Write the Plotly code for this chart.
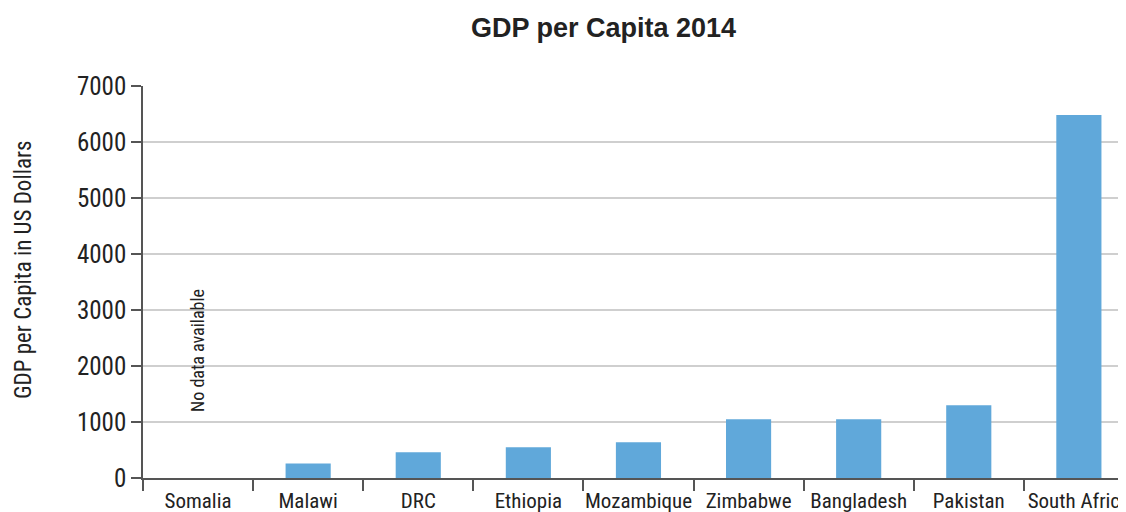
import plotly.graph_objects as go

countries = ["Somalia", "Malawi", "DRC", "Ethiopia", "Mozambique", "Zimbabwe",
             "Bangladesh", "Pakistan", "South Africa"]
gdp = [None, 260, 460, 550, 640, 1050, 1050, 1300, 6480]
y_ticks = [0, 1000, 2000, 3000, 4000, 5000, 6000, 7000]

narrow = "Liberation Sans Narrow, Arial Narrow, Roboto Condensed, sans-serif"

fig = go.Figure()
fig.add_trace(go.Bar(x=countries, y=gdp, marker_color="#60A8DA",
                     marker_line_width=0, width=0.41))

fig.add_annotation(x="Somalia", y=2270, text="No data available", textangle=-90,
                   showarrow=False, font=dict(family=narrow, size=18, color="#222"))

fig.add_annotation(x=0, xref="paper", xanchor="center", xshift=-120,
                   y=0.5306, yref="paper", yanchor="middle",
                   text="GDP per Capita in US Dollars", textangle=-90, showarrow=False,
                   font=dict(family=narrow, size=23, color="#222"))

fig.update_layout(
    width=1126, height=512,
    margin=dict(l=135, r=8, t=78, b=42, autoexpand=False),
    paper_bgcolor="white", plot_bgcolor="white",
    showlegend=False,
    title=dict(text="<b>GDP per Capita 2014</b>", x=0.4685, xanchor="center",
               xref="paper", y=0.961, yanchor="middle",
               font=dict(family="Liberation Sans, Arial, sans-serif", size=27, color="#222")),
    font=dict(family=narrow, color="#222"),
)
fig.update_xaxes(
    range=[-0.5, 8.428], showline=True, linecolor="#555", linewidth=2,
    ticks="outside", tickson="boundaries", ticklen=11, tickcolor="#555", tickwidth=1.5,
    tickangle=0, automargin=False, ticklabelstandoff=3,
    tickfont=dict(family=narrow, size=21, color="#222"), showgrid=False,
)
fig.update_yaxes(
    range=[0, 7000], tickvals=y_ticks, showline=True, linecolor="#555", linewidth=1.5,
    ticks="outside", ticklen=10, tickcolor="#555", tickwidth=1.5, automargin=False,
    showgrid=True, gridcolor="#cfcfcf", gridwidth=1.5, zeroline=False,
    tickfont=dict(family=narrow, size=25, color="#222"),
)

fig.write_html("out.html")
